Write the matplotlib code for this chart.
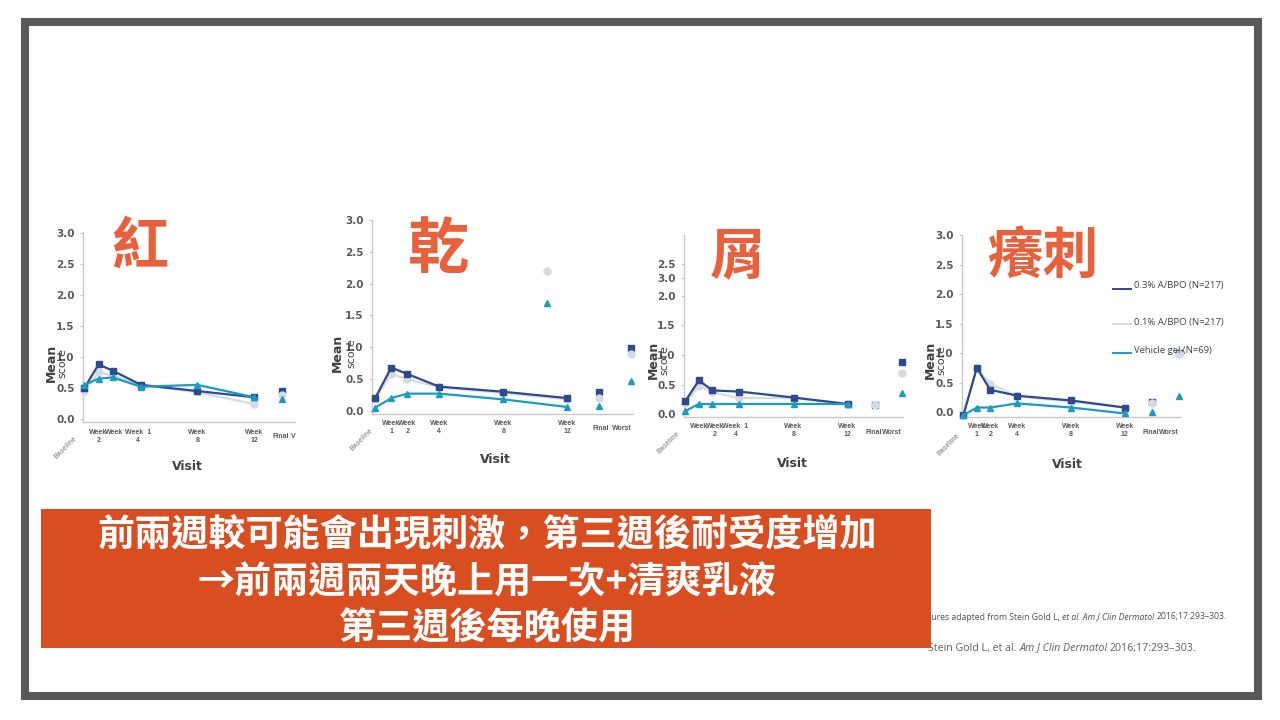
import matplotlib.pyplot as plt
from matplotlib.patches import Rectangle
from matplotlib.lines import Line2D
from matplotlib import transforms

plt.rcParams['font.family'] = ['DejaVu Sans']
CJK = ['Noto Sans CJK TC', 'DejaVu Sans']
SMALL = ['Liberation Sans', 'DejaVu Sans']

W, H = 1280, 720

# visits in weeks, Final / Worst drawn after week 12
weeks = [0, 1, 2, 4, 8, 12]
end_x = [14, 16]
series_names = ['0.3% A/BPO (N=217)', '0.1% A/BPO (N=217)', 'Vehicle gel (N=69)']

# 紅
red_03 = [0.50, 0.88, 0.78, 0.55, 0.45, 0.35]
red_01 = [0.45, 0.75, 0.70, 0.55, 0.43, 0.24]
red_veh = [0.55, 0.65, 0.67, 0.52, 0.55, 0.35]
red_final = [0.45, 0.38, 0.32]

# 乾
dry_03 = [0.20, 0.68, 0.58, 0.38, 0.30, 0.20]
dry_01 = [0.18, 0.58, 0.50, 0.37, 0.28, 0.18]
dry_veh = [0.05, 0.20, 0.27, 0.27, 0.18, 0.06]
dry_final = [0.30, 0.20, 0.08]
dry_worst = [0.98, 0.90, 0.47]
dry_stray_x = 10.7
dry_stray = [2.20, 1.70]   # 0.1%, vehicle

# 屑
flake_03 = [0.22, 0.57, 0.40, 0.38, 0.28, 0.17]
flake_01 = [0.18, 0.48, 0.37, 0.27, 0.27, 0.17]
flake_veh = [0.05, 0.17, 0.17, 0.17, 0.17, 0.17]
flake_final = [0.15, 0.15]
flake_worst = [0.88, 0.70, 0.35]

# 癢刺
itch_03 = [-0.05, 0.75, 0.38, 0.28, 0.20, 0.08]
itch_01 = [-0.05, 0.75, 0.48, 0.27, 0.18, 0.08]
itch_veh = [-0.05, 0.08, 0.08, 0.15, 0.08, -0.02]
itch_final = [0.17, 0.15, 0.01]
itch_worst = [1.00, 0.98, 0.27]

# x tick labels as they appear (some are misaligned in the slide)
red_ticks = ['Week\n2', 'Week', 'Week  1\n4', 'Week\n8', 'Week\n12']
dry_ticks = ['Week\n1', 'Week\n2', 'Week\n4', 'Week\n8', 'Week\n12']
flake_ticks = ['Week', 'Week\n2', 'Week  1\n4', 'Week\n8', 'Week\n12']
itch_ticks = ['Week\n1', 'Week\n2', 'Week\n4', 'Week\n8', 'Week\n12']
red_tick_x = [1, 2.1, 3.8, 8, 12]
flake_tick_x = [1, 2.2, 3.7, 8, 12]

navy = '#2E4A8E'
silver = '#D6DAE2'
teal = '#1C9BC0'
title_col = '#E8603C'
banner_col = '#D84E20'
tick_col = '#595959'

fig = plt.figure(figsize=(12.8, 7.2), dpi=100)
fig.patch.set_facecolor('white')


def fx(px):
    return px / W


def fy(py):
    return 1 - py / H


def make_axes(left, right, top, bottom, xlim, ylim):
    ax = fig.add_axes([fx(left), fy(bottom), (right - left) / W, (bottom - top) / H])
    ax.set_xlim(*xlim)
    ax.set_ylim(*ylim)
    for s in ['top', 'right']:
        ax.spines[s].set_visible(False)
    for s in ['left', 'bottom']:
        ax.spines[s].set_color('#C8C8C8')
        ax.spines[s].set_linewidth(1)
    ax.set_xticks([])
    ax.tick_params(axis='y', length=2, color='#C8C8C8', pad=4,
                   labelsize=7.5, labelcolor=tick_col)
    ax.patch.set_alpha(0)
    return ax


def draw_lines(ax, hi, lo, veh):
    ax.plot(weeks, lo, color=silver, lw=1.6, marker='o', ms=5, mec=silver, clip_on=False, zorder=3)
    ax.plot(weeks, hi, color=navy, lw=1.6, marker='s', ms=5, clip_on=False, zorder=4)
    ax.plot(weeks, veh, color=teal, lw=1.6, marker='^', ms=5, clip_on=False, zorder=5)


def draw_points(ax, x, vals):
    mk = [('s', navy), ('o', silver), ('^', teal)]
    for v, (m, c) in zip(vals, mk):
        ax.plot([x], [v], marker=m, color=c, ms=5, ls='none', clip_on=False, zorder=4)


def x_labels(ax, xs, labels, row_y, ends, end_xs, end_y, base_xy):
    tr = transforms.blended_transform_factory(ax.transData, fig.transFigure)
    for x, t in zip(xs, labels):
        ax.text(x, fy(row_y), t, transform=tr, ha='center', va='top', fontsize=5,
                family=SMALL, fontweight='bold', color=tick_col, linespacing=1.2,
                clip_on=False)
    for x, t in zip(end_xs, ends):
        ax.text(x, fy(end_y), t, transform=tr, ha='center', va='center', fontsize=5,
                family=SMALL, fontweight='bold', color=tick_col, clip_on=False)
    fig.text(fx(base_xy[0]), fy(base_xy[1]), 'Baseline', rotation=45, ha='center',
             va='center', fontsize=5, family=SMALL, fontweight='bold', color='#9A9A9A')


def y_title(mx, sx, cy):
    fig.text(fx(mx), fy(cy), 'Mean', rotation=90, ha='center', va='center',
             fontsize=9, fontweight='bold', color='#404040')
    fig.text(fx(sx), fy(cy), 'score', rotation=90, ha='center', va='center',
             fontsize=8, color='#404040')


def visit(x, y):
    fig.text(fx(x), fy(y), 'Visit', ha='center', va='center', fontsize=9,
             fontweight='bold', color='#404040')


def big_title(x, y, txt, size):
    fig.text(fx(x), fy(y), txt, family=CJK, ha='center', va='center',
             fontsize=size, fontweight='bold', color=title_col)


std_ticks = [0, 0.5, 1.0, 1.5, 2.0, 2.5, 3.0]
std_labels = ['0.0', '0.5', '1.0', '1.5', '2.0', '2.5', '3.0']

# ---- 紅
ax1 = make_axes(83, 295, 232, 422, (-0.1, 14.9), (-0.05, 3.02))
ax1.set_yticks(std_ticks)
ax1.set_yticklabels(std_labels, fontweight='bold')
draw_lines(ax1, red_03, red_01, red_veh)
draw_points(ax1, end_x[0], red_final)
x_labels(ax1, red_tick_x, red_ticks, 429, ['Final', 'V'], [13.9, 14.75], 437, (66, 448))
y_title(51, 62, 363)
visit(187, 467)
big_title(140, 247, '紅', 41)

# ---- 乾
ax2 = make_axes(372, 633, 220, 414, (-0.2, 16.1), (-0.05, 3.0))
ax2.set_yticks(std_ticks)
ax2.set_yticklabels(std_labels, fontweight='bold')
draw_lines(ax2, dry_03, dry_01, dry_veh)
draw_points(ax2, end_x[0], dry_final)
draw_points(ax2, end_x[1], dry_worst)
ax2.plot([dry_stray_x], [dry_stray[0]], marker='o', color=silver, ms=5, ls='none')
ax2.plot([dry_stray_x], [dry_stray[1]], marker='^', color=teal, ms=5, ls='none')
x_labels(ax2, weeks[1:], dry_ticks, 420, ['Final', 'Worst'], [14.1, 15.4], 429, (362, 440))
y_title(337, 351, 353)
visit(495, 460)
big_title(438, 250, '乾', 44)

# ---- 屑 (axis labels are out of order in the slide)
ax3 = make_axes(684, 903, 235, 417, (-0.1, 16.1), (-0.05, 3.03))
ax3.set_yticks([0, 0.5, 1.0, 1.5, 2.0, 2.3, 2.54])
ax3.set_yticklabels(['0.0', '0.5', '1.0', '1.5', '2.0', '3.0', '2.5'], fontweight='bold')
draw_lines(ax3, flake_03, flake_01, flake_veh)
ax3.plot([end_x[0]], [flake_final[0]], marker='s', color=navy, ms=5, ls='none', zorder=4)
ax3.plot([end_x[0]], [flake_final[1]], marker='o', color=silver, ms=5, ls='none', zorder=5)
draw_points(ax3, end_x[1], flake_worst)
x_labels(ax3, flake_tick_x, flake_ticks, 423, ['Final', 'Worst'], [13.9, 15.3], 432, (669, 443))
y_title(653, 664, 360)
visit(792, 463)
big_title(738, 257, '屑', 40)

# ---- 癢刺
ax4 = make_axes(962, 1180, 235, 417, (-0.1, 16.1), (-0.08, 3.0))
ax4.set_yticks(std_ticks)
ax4.set_yticklabels(std_labels, fontweight='bold')
draw_lines(ax4, itch_03, itch_01, itch_veh)
draw_points(ax4, end_x[0], itch_final)
draw_points(ax4, end_x[1], itch_worst)
x_labels(ax4, weeks[1:], itch_ticks, 423, ['Final', 'Worst'], [13.9, 15.3], 432, (949, 445))
y_title(930, 941, 360)
visit(1067, 464)
big_title(1043, 257, '癢刺', 40)

# legend
for name, c, ly, ty in zip(series_names, [navy, silver, teal], [289, 324, 353], [286, 322, 350]):
    fig.add_artist(Line2D([fx(1113), fx(1131)], [fy(ly), fy(ly)], color=c, lw=1.4))
    fig.text(fx(1134), fy(ty), name, family=['Open Sans', 'DejaVu Sans'],
             ha='left', va='center', fontsize=6.8, color='#404040')

# footnotes (partly hidden behind the banner)
renderer = fig.canvas.get_renderer()


def run_text(x0, y, parts, size, color):
    x = fx(x0)
    for txt, sty in parts:
        t = fig.text(x, fy(y), txt, fontstyle=sty, family=['Open Sans', 'DejaVu Sans'],
                     ha='left', va='center', fontsize=size, color=color, zorder=1)
        bb = t.get_window_extent(renderer=renderer)
        x += bb.width / W


run_text(920, 617, [('Figures adapted from Stein Gold L, ', 'normal'),
                    ('et al. Am J Clin Dermatol ', 'italic'),
                    ('2016;17:293\u2013303.', 'normal')], 6.2, '#505050')
run_text(928, 648, [('Stein Gold L, et al. ', 'normal'),
                    ('Am J Clin Dermatol ', 'italic'),
                    ('2016;17:293\u2013303.', 'normal')], 7.7, '#606060')

# banner
fig.add_artist(Rectangle((fx(41), fy(648)), (931 - 41) / W, (648 - 509) / H,
                         transform=fig.transFigure, facecolor=banner_col,
                         edgecolor='none', zorder=5))
banner_lines = ['前兩週較可能會出現刺激，第三週後耐受度增加',
                '→前兩週兩天晚上用一次+清爽乳液',
                '第三週後每晚使用']
for line, ly in zip(banner_lines, [536, 583, 629]):
    fig.text(fx(487), fy(ly), line, family=CJK, ha='center', va='center',
             fontsize=26.7, fontweight='bold', color='white', zorder=6)

# slide frame
fig.add_artist(Rectangle((fx(25), fy(696)), (1258 - 25) / W, (696 - 22) / H,
                         transform=fig.transFigure, facecolor='none',
                         edgecolor='#595959', lw=5.8, zorder=7))

fig.savefig('out.png', dpi=100)
